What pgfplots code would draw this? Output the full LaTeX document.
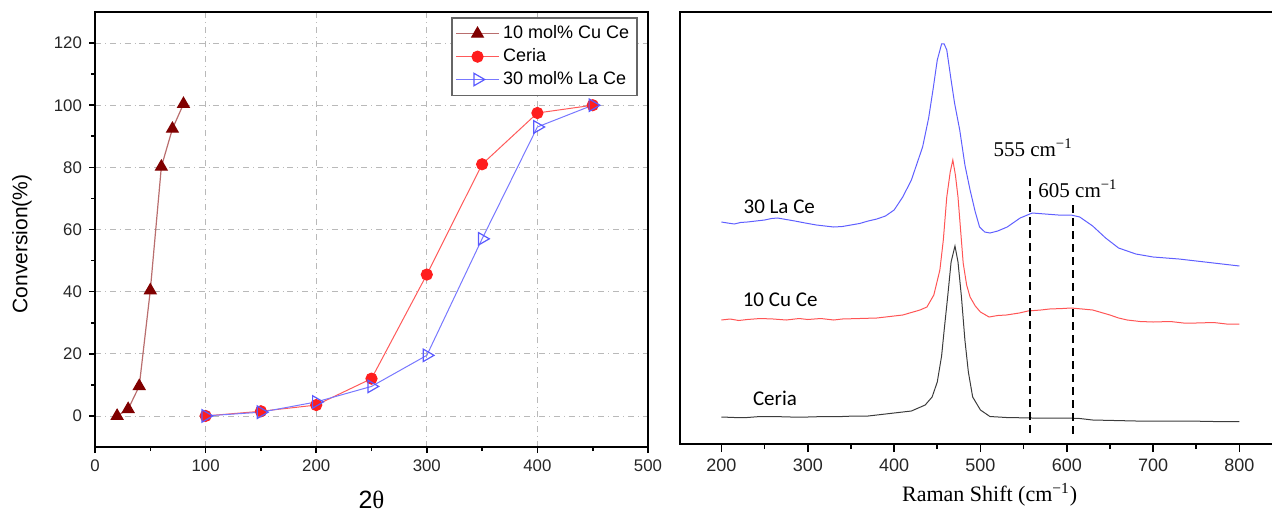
\documentclass[border=0pt]{standalone}
\usepackage{fontspec}
\usepackage{pgfplots}
\pgfplotsset{compat=1.18}
\newfontfamily\arial{Liberation Sans}
\newfontfamily\calib{Carlito}
\newfontfamily\serif{Liberation Serif}
\definecolor{cuMark}{RGB}{128,0,0}
\definecolor{cuLine}{RGB}{185,110,110}
\definecolor{ceRed}{RGB}{255,30,30}
\definecolor{ceLine}{RGB}{255,90,90}
\definecolor{laBlue}{RGB}{90,90,255}
\definecolor{laLine}{RGB}{120,120,255}
\definecolor{rBlue}{RGB}{95,95,255}
\definecolor{rRed}{RGB}{255,85,85}
\definecolor{rBlack}{RGB}{60,60,60}
\begin{document}
\begin{tikzpicture}
\useasboundingbox (0,0) rectangle (636pt,-257pt);
% ---------------- left panel ----------------
\begin{axis}[
  at={(47.5pt,-223.5pt)}, anchor=south west,
  scale only axis, width=276.5pt, height=217.5pt,
  xmin=0, xmax=500, ymin=-10, ymax=130,
  xtick={0,100,...,500}, ytick={0,20,...,120},
  minor xtick={50,150,...,450}, minor ytick={10,30,...,110},
  tick align=outside, tick pos=left,
  major tick length=3pt, minor tick length=2pt,
  every tick/.style={black, line width=0.8pt},
  grid=major,
  major grid style={dash dot, gray!55, line width=0.4pt},
  axis line style={line width=1pt},
  /pgf/number format/assume math mode=true,
  ticklabel style={font=\arial\fontsize{8.4}{10}\selectfont, text=black!85},
  xlabel={\arial 2{\serif θ}},
  xlabel style={font=\fontsize{12.5}{14}\selectfont, at={(axis description cs:0.5,-0.122)}, anchor=center, inner sep=0pt},
  ylabel={\arial Conversion(\%)},
  ylabel style={font=\fontsize{10.5}{12}\selectfont, at={(axis description cs:-0.132,0.467)}, anchor=center, rotate=0},
  legend style={at={(rel axis cs:0.982,0.9885)}, anchor=north east,
    draw=black!60, line width=0.8pt, font=\arial\fontsize{9}{10}\selectfont,
    row sep=-0.6pt, inner sep=2pt},
  legend cell align=left,
  legend image code/.code={\draw[mark repeat=2,mark phase=2] plot coordinates {(0cm,0cm) (0.37cm,0cm) (0.74cm,0cm)};},
]
\addplot[cuLine, line width=0.6pt, mark=triangle*, mark size=3.3pt,
  mark options={solid, fill=cuMark, draw=cuMark}] coordinates {
  (20,0) (30,2.2) (40,9.6) (50,40.4) (60,80.2) (70,92.4) (80,100.4)};
\addlegendentry{10 mol\% Cu Ce}
\addplot[ceLine, line width=0.5pt, mark=*, mark size=2.8pt,
  mark options={solid, fill=ceRed, draw=ceRed}] coordinates {
  (100,0) (150,1.5) (200,3.5) (250,12) (300,45.5) (350,81) (400,97.5) (450,100)};
\addlegendentry{Ceria}
\addplot[laLine, line width=0.5pt, mark=triangle, mark size=3.6pt,
  mark options={solid, draw=laBlue, fill=white, rotate=-90, line width=0.6pt}] coordinates {
  (100,0) (150,1.2) (200,4.5) (250,9.5) (300,19.5) (350,57) (400,93) (450,100)};
\addlegendentry{30 mol\% La Ce}
\end{axis}
% ---------------- right panel ----------------
\begin{axis}[
  at={(340pt,-222pt)}, anchor=south west,
  scale only axis, width=300pt, height=216pt,
  xmin=152, xmax=847, ymin=0, ymax=432,
  xtick={200,300,...,800}, minor xtick={250,350,...,750},
  ytick=\empty,
  tick align=outside, tick pos=left,
  major tick length=4pt, minor tick length=2.5pt,
  every tick/.style={black, line width=0.8pt},
  axis line style={line width=1pt},
  /pgf/number format/assume math mode=true,
  ticklabel style={font=\arial\fontsize{9}{10}\selectfont, text=black!85},
  xlabel={\serif Raman Shift (cm\textsuperscript{−1})},
  xlabel style={font=\fontsize{11}{12}\selectfont, at={(axis description cs:0.516,-0.118)}, anchor=center},
]
% Ceria (black)
\addplot[rBlack, line width=0.5pt] coordinates {
  (200,27) (215,26.5) (230,26.5) (245,27.5) (260,27.5) (280,27) (300,27) (320,27.5) (340,27.5)
  (355,28) (370,28) (385,29.5) (400,31) (420,33) (436,39) (444,47) (450,62) (455,88) (458,114)
  (462,147) (466,182) (470.5,198) (474,182) (478,147) (482,104) (486,72) (491,47) (500,34)
  (511,27.5) (530,26.5) (560,26) (600,26) (615,25.5) (630,24) (655,23.5) (680,23) (710,23)
  (740,23) (770,22.5) (800,22.5)};
% 10 Cu Ce (red)
\addplot[rRed, line width=0.5pt] coordinates {
  (200,124) (210,125) (220,123.5) (230,124.5) (245,125.5) (260,125) (275,124) (290,125.5)
  (300,124.5) (315,125.5) (330,124) (340,125) (360,125.5) (380,126) (395,127.5) (410,129)
  (430,134) (438,137) (446,149) (453,174) (457,204) (461,247) (465,272) (468,284)
  (471,269) (474,247) (477,214) (480,181) (484,159) (488,147) (494,138) (500,132)
  (510,127) (520,128.5) (530,129) (545,131) (555,133) (570,134) (580,135) (595,135.5)
  (605,136) (618,135) (630,134) (640,131.5) (650,129) (660,126) (670,124) (685,122.5)
  (700,122) (720,122.5) (735,121) (750,121) (770,121.5) (785,120) (800,120)};
% 30 La Ce (blue)
\addplot[rBlue, line width=0.5pt] coordinates {
  (200,222) (207,221) (215,220) (222,221.5) (230,222) (240,223) (250,224) (258,225.5)
  (265,226) (275,224.5) (285,223) (297,221) (310,219) (320,218) (330,217) (340,217.5)
  (350,219) (360,220.5) (370,223) (380,225) (390,228) (400,234) (410,247) (420,264)
  (433,297) (440,326) (445,354) (450,384) (455,400) (458,400) (461,394) (466,364)
  (470,341) (476,314) (482,279) (488,254) (494,232) (499,217) (505,212) (511,211)
  (520,213) (531,217) (546,226) (560,231) (575,230) (590,229) (605,229) (615,227)
  (630,218) (645,206) (660,196) (680,190) (700,187) (715,186) (730,185) (745,183.5)
  (760,182) (780,180) (800,178)};
% dashed guide lines
\addplot[black, line width=1pt, dash pattern=on 4pt off 2.5pt] coordinates {(557,266) (557,7)};
\addplot[black, line width=1pt, dash pattern=on 4pt off 2.5pt] coordinates {(607,239) (607,7)};
\node[font=\serif\fontsize{10.5}{12}\selectfont] at (axis cs:561,296) {555 cm\textsuperscript{−1}};
\node[font=\serif\fontsize{10.5}{12}\selectfont] at (axis cs:613,255) {605 cm\textsuperscript{−1}};
\node[font=\calib\fontsize{10.5}{12}\selectfont] at (axis cs:267,237) {30 La Ce};
\node[font=\calib\fontsize{10.5}{12}\selectfont] at (axis cs:268,144) {10 Cu Ce};
\node[font=\calib\fontsize{10.5}{12}\selectfont] at (axis cs:262,46) {Ceria};
\end{axis}
\end{tikzpicture}
\end{document}
